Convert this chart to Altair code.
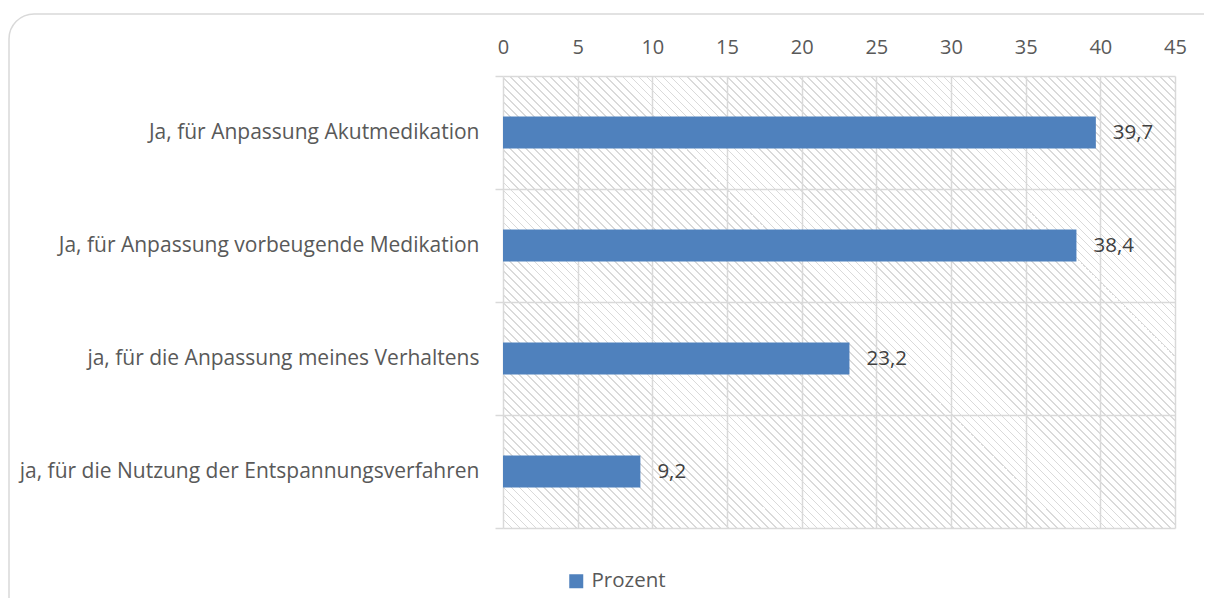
import altair as alt
import pandas as pd

# ---- data ----
categories = [
    "Ja, für Anpassung Akutmedikation",
    "Ja, für Anpassung vorbeugende Medikation",
    "ja, für die Anpassung meines Verhaltens",
    "ja, für die Nutzung der Entspannungsverfahren",
]
values = [39.7, 38.4, 23.2, 9.2]
series_name = "Prozent"
x_ticks = [0, 5, 10, 15, 20, 25, 30, 35, 40, 45]

df = pd.DataFrame({
    "kategorie": categories,
    "prozent": values,
    "serie": [series_name] * len(categories),
    "label": [f"{v:.1f}".replace(".", ",") for v in values],
})

W, H = 672, 452
FONT = "Open Sans"
GRID = "#d9d9d9"
LABEL = "#595959"
BAR = "#4f81bd"

# ---- diagonal hatch pattern for the plot background (style only) ----
r = H / W
s = (1 + r) / (1 + r * r)
n_stripes = round((W + H) / 8)
hatch = "#dadada"
clear = "rgba(255,255,255,0)"
stops = []
for k in range(n_stripes):
    a = k / n_stripes
    b = (k + 0.22) / n_stripes
    c = (k + 1) / n_stripes
    stops += [
        alt.GradientStop(color=hatch, offset=a),
        alt.GradientStop(color=hatch, offset=b),
        alt.GradientStop(color=clear, offset=b),
        alt.GradientStop(color=clear, offset=c),
    ]
gradient = alt.LinearGradient(
    gradient="linear", stops=stops, x1=0, y1=1, x2=s, y2=1 - s * r
)

one = alt.Data(values=[{"k": 1}])

background = alt.Chart(one).mark_rect(fill=gradient, strokeWidth=0).encode(
    x=alt.value(0), x2=alt.value("width"), y=alt.value(0), y2=alt.value("height")
)

frame = alt.Chart(one).mark_rect(
    filled=False, stroke=GRID, strokeWidth=1.5, cornerRadius=25
).encode(
    x=alt.value(-494), x2=alt.value(740), y=alt.value(-62), y2=alt.value(620)
)

x_enc = alt.X(
    "prozent:Q",
    scale=alt.Scale(domain=[0, 45], nice=False, zero=True),
    axis=alt.Axis(
        orient="top", values=x_ticks, grid=True, gridColor=GRID, gridWidth=1.5,
        ticks=False, tickSize=0, domain=False, labelPadding=19, title=None,
        labelFont=FONT, labelFontSize=20, labelColor=LABEL, labelFlush=False,
    ),
)
y_enc = alt.Y(
    "kategorie:N",
    sort=categories,
    title=None,
    scale=alt.Scale(paddingInner=0, paddingOuter=0),
    axis=alt.Axis(
        tickBand="extent", grid=True, gridColor=GRID, gridWidth=1.5,
        ticks=True, tickSize=8, tickColor=GRID, tickWidth=1.5, domain=False,
        labelPadding=16, labelFont=FONT, labelFontSize=21, labelColor=LABEL,
        labelLimit=0,
    ),
)

bars = alt.Chart(df).mark_bar(size=32).encode(
    x=x_enc,
    y=y_enc,
    color=alt.Color(
        "serie:N",
        scale=alt.Scale(domain=[series_name], range=[BAR]),
        legend=alt.Legend(
            title=None, orient="none", legendX=63, legendY=495,
            symbolType="square", symbolSize=196, symbolStrokeWidth=0,
            labelFont=FONT, labelFontSize=20.5, labelColor=LABEL,
            labelOffset=5, padding=0,
        ),
    ),
)

labels = alt.Chart(df).mark_text(
    align="left", baseline="middle", dx=17, font=FONT, fontSize=20.5, color="#404040"
).encode(x=x_enc, y=y_enc, text="label:N")

chart = alt.layer(background, frame, bars, labels).properties(
    width=W,
    height=H,
    padding={"left": 495, "top": 68, "right": 29, "bottom": 70},
    autosize=alt.AutoSizeParams(type="none"),
    background="white",
).configure_view(stroke=None)

chart.save("out.html", embed_options={"renderer": "svg", "actions": False})
